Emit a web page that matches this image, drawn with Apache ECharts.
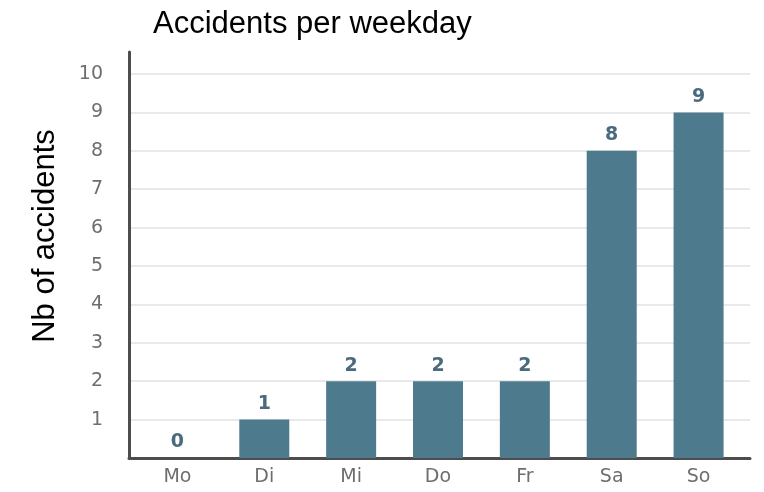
<!DOCTYPE html>
<html>
<head>
<meta charset="utf-8">
<title>Accidents per weekday</title>
<script src="https://cdn.jsdelivr.net/npm/echarts@6/dist/echarts.min.js"></script>
<style>
  html, body { margin: 0; padding: 0; background: #ffffff; }
  #chart { width: 764px; height: 492px; }
</style>
</head>
<body>
<div id="chart"></div>
<script>
// Weekday categories (German abbreviations) and accident counts
const weekdays = ['Mo', 'Di', 'Mi', 'Do', 'Fr', 'Sa', 'So'];
const accidents = [0, 1, 2, 2, 2, 8, 9];

// Value axis range and tick step
const yMin = 0;
const yMax = 10;
const yStep = 1;

const titleText = 'Accidents per weekday';
const yAxisTitle = 'Nb of accidents';

const axisColor = '#4d4d4d';
const tickLabelColor = '#6e6e6e';
const barColor = '#4e7a8e';
const valueLabelColor = '#4a6b7e';
const tickFont = '"DejaVu Sans", sans-serif';

const chart = echarts.init(document.getElementById('chart'), null, { renderer: 'canvas' });

chart.setOption({
  backgroundColor: '#ffffff',
  animation: false,
  title: {
    text: titleText,
    left: 153,
    top: 9,
    padding: 0,
    textStyle: {
      fontFamily: '"Liberation Sans", Arial, sans-serif',
      fontSize: 31,
      fontWeight: 'normal',
      color: '#000000'
    }
  },
  graphic: [{
    type: 'text',
    x: 45,
    y: 236,
    rotation: Math.PI / 2,
    style: {
      text: yAxisTitle,
      align: 'center',
      verticalAlign: 'middle',
      fontFamily: '"Liberation Sans", Arial, sans-serif',
      fontSize: 31,
      fill: '#000000'
    }
  }],
  grid: [
    // bars and category labels
    { left: 134, right: 22, top: 74, bottom: 34 },
    // grid lines, value labels, baseline
    { left: 129, right: 14, top: 74, bottom: 34 },
    // vertical axis line reaching above the top tick
    { left: 129, right: 14, top: 52, bottom: 34 }
  ],
  xAxis: [
    {
      gridIndex: 0,
      type: 'category',
      data: weekdays,
      axisLine: { show: false },
      axisTick: { show: false },
      axisLabel: {
        margin: 10,
        fontFamily: tickFont,
        fontSize: 19,
        color: tickLabelColor
      }
    },
    {
      gridIndex: 1,
      type: 'value',
      min: 0,
      max: 1,
      axisLine: { show: true, onZero: false, lineStyle: { color: axisColor, width: 3 } },
      axisTick: { show: false },
      axisLabel: { show: false },
      splitLine: { show: false }
    },
    {
      gridIndex: 2,
      type: 'value',
      min: 0,
      max: 1,
      show: false
    }
  ],
  yAxis: [
    {
      gridIndex: 0,
      type: 'value',
      min: yMin,
      max: yMax,
      interval: yStep,
      show: false
    },
    {
      gridIndex: 1,
      type: 'value',
      min: yMin,
      max: yMax,
      interval: yStep,
      axisLine: { show: false },
      axisTick: { show: false },
      axisLabel: {
        margin: 26,
        fontFamily: tickFont,
        fontSize: 19,
        color: tickLabelColor,
        formatter: v => (v === 0 ? '' : String(v))
      },
      splitLine: { show: true, lineStyle: { color: '#e2e2e2', width: 1.5 } }
    },
    {
      gridIndex: 2,
      type: 'value',
      min: 0,
      max: 1,
      axisLine: { show: true, lineStyle: { color: axisColor, width: 3 } },
      axisTick: { show: false },
      axisLabel: { show: false },
      splitLine: { show: false }
    }
  ],
  series: [{
    type: 'bar',
    xAxisIndex: 0,
    yAxisIndex: 0,
    data: accidents,
    barWidth: 50,
    itemStyle: { color: barColor },
    label: {
      show: true,
      position: 'top',
      distance: 6,
      fontFamily: tickFont,
      fontSize: 19,
      fontWeight: 'bold',
      color: valueLabelColor
    }
  }]
});
</script>
</body>
</html>
